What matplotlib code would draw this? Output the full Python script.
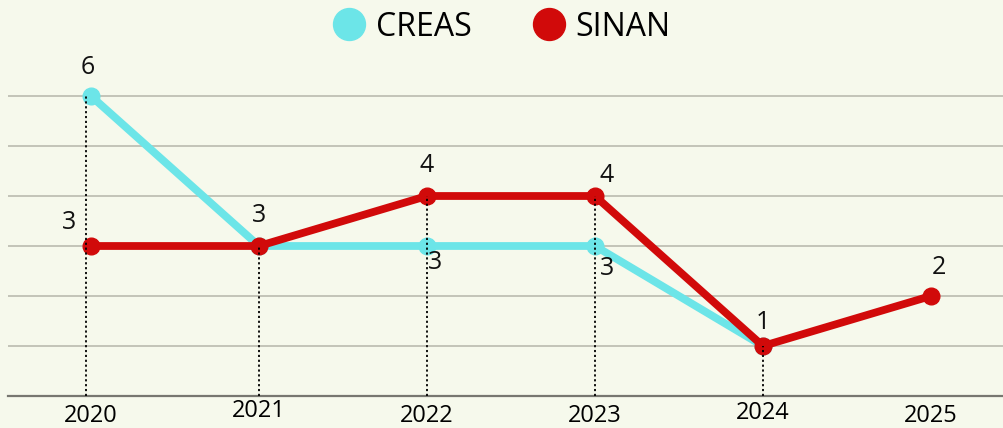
import numpy as np
import matplotlib.pyplot as plt
import matplotlib.transforms as mtransforms
from matplotlib.lines import Line2D

# data
years = ['2020', '2021', '2022', '2023', '2024', '2025']
creas = [6, 3, 3, 3, 1, np.nan]
sinan = [3, 3, 4, 4, 1, 2]

cyan = '#6ce5e8'
red = '#d10a0a'
bg = '#f6f9ec'
fonts = ['Open Sans', 'Noto Sans', 'DejaVu Sans']

fig = plt.figure(figsize=(10.04, 4.28), dpi=100, facecolor=bg)
ax = fig.add_axes([8/1004, 32/428, 996/1004, 350/428], facecolor=bg)

x = np.arange(len(years))

# gridlines
for v in range(1, 7):
    ax.axhline(v, color='#bfc0b4', lw=1.3, zorder=0)

# lines
ax.plot(x, creas, color=cyan, lw=5.6, marker='o', ms=12, zorder=2, solid_capstyle='round')
ax.plot(x, sinan, color=red, lw=5.6, marker='o', ms=12, zorder=3, solid_capstyle='round')

# dotted drop lines (not for the last year)
for i in range(len(years) - 1):
    top = np.nanmax([creas[i], sinan[i]])
    xi = x[i] - 0.03 if i == 0 else x[i]
    ax.plot([xi, xi], [0, top], color='black', lw=1.3, ls=(0, (1.2, 1.5)), zorder=4)

# value labels
lab = dict(fontsize=18, family=fonts, color='#111111', zorder=5)
ax.text(x[0] - 0.02, creas[0] + 0.32, str(creas[0]), ha='center', va='bottom', **lab)
ax.text(x[0] - 0.13, sinan[0] + 0.22, str(sinan[0]), ha='center', va='bottom', **lab)
ax.text(x[1], sinan[1] + 0.37, str(sinan[1]), ha='center', va='bottom', **lab)
ax.text(x[2], sinan[2] + 0.37, str(sinan[2]), ha='center', va='bottom', **lab)
ax.text(x[2] + 0.05, creas[2] - 0.08, str(creas[2]), ha='center', va='top', **lab)
ax.text(x[3] + 0.07, sinan[3] + 0.17, str(sinan[3]), ha='center', va='bottom', **lab)
ax.text(x[3] + 0.07, creas[3] - 0.2, str(creas[3]), ha='center', va='top', **lab)
ax.text(x[4], sinan[4] + 0.22, str(sinan[4]), ha='center', va='bottom', **lab)
ax.text(x[5] + 0.05, sinan[5] + 0.32, str(sinan[5]), ha='center', va='bottom', **lab)

ax.set_xlim(-0.494, 5.435)
ax.set_ylim(0, 7)
for s in ['top', 'right', 'left']:
    ax.spines[s].set_visible(False)
ax.spines['bottom'].set_color('#777770')
ax.spines['bottom'].set_linewidth(1.6)
ax.set_yticks([])
ax.set_xticks(x)
ax.set_xticklabels(years, family=fonts, fontsize=17)
ax.tick_params(axis='x', length=0, pad=3)
# the year labels sit at slightly uneven heights
offs = [4, -1, 4, 4, 1, 4]
for t, o in zip(ax.get_xticklabels(), offs):
    t.set_transform(t.get_transform() + mtransforms.ScaledTranslation(0, -o / 100, fig.dpi_scale_trans))

handles = [Line2D([], [], color=cyan, marker='o', ms=23, lw=0),
           Line2D([], [], color=red, marker='o', ms=23, lw=0)]
fig.legend(handles, ['CREAS', 'SINAN'], loc='center', bbox_to_anchor=(0.5, 1 - 27/428),
           ncol=2, frameon=False, prop={'family': fonts, 'size': 23},
           handletextpad=0.35, columnspacing=1.9, handlelength=1.0)

fig.savefig('out.png', facecolor=bg)
